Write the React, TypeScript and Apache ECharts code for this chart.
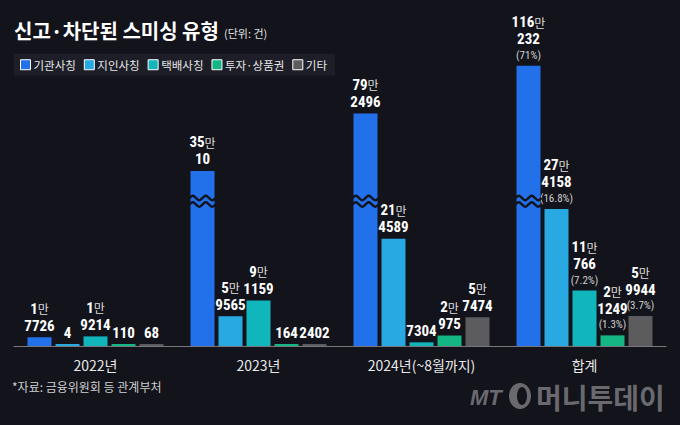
import React, { useEffect, useRef } from "react";
import * as echarts from "echarts";

const categories = ["2022년", "2023년", "2024년(~8월까지)", "합계"];
const seriesNames = ["기관사칭", "지인사칭", "택배사칭", "투자·상품권", "기타"];
const impersonInst = [17726, 350010, 792496, 1160232];
const impersonAcq = [4, 59565, 214589, 274158];
const delivery = [19214, 91159, 7304, 110766];
const investment = [110, 164, 20975, 21249];
const others = [68, 2402, 57474, 59944];
const totalShares = ["71%", "16.8%", "7.2%", "1.3%", "3.7%"];
const colors = ["#2371ea", "#29a9e1", "#10b6bc", "#14b684", "#5c5c5e"];

// broken-axis compression for very tall bars
const BREAK_START = 350000;
const BREAK_RATIO = 0.26;
const BREAK_AT = 290000;
const display = (v: number) => (v <= BREAK_START ? v : BREAK_START + (v - BREAK_START) * BREAK_RATIO);

const FONT = "'Noto Sans CJK KR', 'Noto Sans', sans-serif";
const NUMFONT = "'Roboto Condensed', 'Liberation Sans Narrow', 'Arial Narrow', 'Liberation Sans', sans-serif";
const BG = "#12131b";

const allSeries = [impersonInst, impersonAcq, delivery, investment, others];

function fmt(v: number, si: number, ci: number) {
  let s = "";
  if (v >= 10000) {
    s = `{n|${Math.floor(v / 10000)}}{m|만}\n{n|${v % 10000}}`;
  } else {
    s = `{n|${v}}`;
  }
  if (ci === 3) s += `\n{p|(${totalShares[si]})}`;
  return s;
}

export default function App() {
  const ref = useRef<HTMLDivElement>(null);
  useEffect(() => {
    document.body.style.margin = "0";
    const chart = echarts.init(ref.current!, null, { renderer: "svg" });
    const barSeries = allSeries.map((arr, si) => ({
      type: "bar",
      name: seriesNames[si],
      data: arr.map((v) => display(v)),
      barWidth: 24,
      barGap: "16.67%",
      barMinHeight: 2,
      itemStyle: { color: colors[si] },
      label: {
        show: true,
        position: "top",
        distance: 3,
        align: "center",
        formatter: (p: any) => fmt(arr[p.dataIndex], si, p.dataIndex),
        rich: {
          n: { fontSize: 15, fontWeight: "bold", color: "#ffffff", fontFamily: NUMFONT, lineHeight: 17 },
          m: { fontSize: 12, color: "#dddddd", fontFamily: FONT, lineHeight: 17 },
          p: { fontSize: 11, color: "#cfcfcf", fontFamily: NUMFONT, lineHeight: 15 },
        },
      },
    }));
    const breakData = impersonInst
      .map((v, i) => [i, v])
      .filter((d) => d[1] > BREAK_START - 1)
      .map((d) => [d[0], BREAK_AT]);
    chart.setOption({
      animation: false,
      backgroundColor: BG,
      textStyle: { fontFamily: FONT },
      color: colors,
      grid: { left: 14, right: 14, top: 46, bottom: 79 },
      legend: {
        data: seriesNames,
        left: 14,
        top: 54,
        padding: [5, 8, 5, 6],
        backgroundColor: "#1d1e27",
        itemWidth: 10,
        itemHeight: 10,
        itemGap: 8,
        icon: "rect",
        itemStyle: { borderColor: "#ffffff", borderWidth: 1 },
        textStyle: { color: "#e6e6e6", fontSize: 11.5, fontFamily: FONT, padding: [0, 0, 0, -2] },
        selectedMode: false,
      },
      xAxis: {
        type: "category",
        data: categories,
        axisLine: { lineStyle: { color: "#77777c", width: 1 } },
        axisTick: { inside: true, length: 5, lineStyle: { color: "#77777c" } },
        axisLabel: { color: "#e8e8e8", fontSize: 14, margin: 12, fontFamily: FONT },
      },
      yAxis: { type: "value", show: false, min: 0, max: 600000, splitLine: { show: false } },
      series: [
        ...barSeries,
        {
          type: "custom",
          name: "break",
          z: 5,
          silent: true,
          data: breakData,
          renderItem: (params: any, api: any) => {
            const c = api.coord([api.value(0), api.value(1)]);
            const x0 = c[0] - 68 - 1;
            const w = 26;
            const mk = (y: number) => {
              const pts: number[][] = [];
              const offs = [0, -2.2, 0, 2.2];
              for (let k = 0; k <= 8; k++) pts.push([x0 + (w * k) / 8, y + offs[k % 4]]);
              return {
                type: "polyline",
                shape: { points: pts, smooth: 0.5 },
                style: { stroke: BG, lineWidth: 2.4, fill: null },
              };
            };
            return { type: "group", children: [mk(c[1] - 3), mk(c[1] + 3.5)] };
          },
        },
      ],
      graphic: [
        {
          type: "text",
          left: 14,
          top: 20,
          style: { text: "신고·차단된 스미싱 유형", fill: "#ffffff", font: `bold 20px ${FONT}` },
        },
        {
          type: "text",
          left: 224,
          top: 27,
          style: { text: "(단위: 건)", fill: "#e0e0e0", font: `11px ${FONT}` },
        },
        {
          type: "text",
          left: 12,
          top: 380,
          style: { text: "*자료: 금융위원회 등 관계부처", fill: "#d0d0d0", font: `12px ${FONT}` },
        },
        {
          type: "text",
          x: 470,
          y: 397,
          style: { text: "MT", fill: "#6a6a6e", verticalAlign: "middle", font: `italic bold 22px 'Liberation Sans', sans-serif` },
        },
        {
          type: "ellipse",
          shape: { cx: 520, cy: 396, rx: 11, ry: 13 },
          style: { fill: "#6a6a6e" },
        },
        {
          type: "ellipse",
          shape: { cx: 522, cy: 396, rx: 5, ry: 9 },
          style: { fill: BG },
        },
        {
          type: "text",
          x: 536,
          y: 397,
          style: { text: "머니투데이", fill: "#6a6a6e", verticalAlign: "middle", font: `bold 28px ${FONT}` },
        },
      ],
    });
    return () => chart.dispose();
  }, []);
  return <div ref={ref} style={{ position: "fixed", left: 0, top: 0, width: 680, height: 425 }} />;
}
